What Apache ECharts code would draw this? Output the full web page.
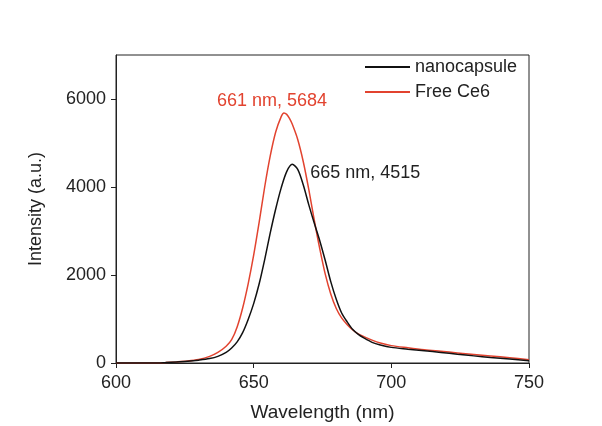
<!DOCTYPE html>
<html>
<head>
<meta charset="utf-8">
<script src="https://cdn.jsdelivr.net/npm/echarts@6/dist/echarts.min.js"></script>
<style>
  html, body { margin: 0; padding: 0; background: #fff; }
  #chart { width: 602px; height: 426px; }
</style>
</head>
<body>
<div id="chart"></div>
<script>
// emission spectra, wavelength (nm) vs intensity (a.u.)
var nanocapsule = [
  [600, 0], [614, 0], [618, 10], [622, 25], [626, 40], [630, 65], [634, 100],
  [637, 150], [640, 240], [642, 340], [644, 480], [646, 690], [648, 990],
  [650, 1350], [652, 1800], [654, 2350], [656, 2950], [658, 3500], [660, 3980],
  [662, 4350], [664, 4515], [666, 4400], [668, 4050], [670, 3600], [672, 3180],
  [674, 2780], [676, 2330], [678, 1850], [680, 1450], [682, 1130], [684, 930],
  [686, 760], [688, 650], [690, 570], [693, 470], [696, 410], [700, 355],
  [706, 315], [712, 278], [718, 240], [724, 200], [730, 162], [736, 125],
  [743, 90], [750, 52]
]
var freeCe6 = [
  [600, 0], [614, 0], [618, 10], [622, 25], [626, 45], [630, 80], [634, 150],
  [637, 240], [640, 380], [642, 530], [644, 820], [646, 1250], [648, 1800],
  [650, 2450], [652, 3200], [654, 4000], [656, 4700], [658, 5250], [660, 5600],
  [661, 5684], [662, 5650], [663, 5560], [664, 5430], [666, 5080], [668, 4580],
  [670, 3950], [672, 3250], [674, 2600], [676, 2020], [678, 1570], [680, 1240],
  [682, 1020], [684, 870], [686, 750], [688, 660], [690, 600], [693, 520],
  [696, 455], [700, 395], [706, 345], [712, 300], [718, 265], [724, 230],
  [730, 195], [736, 160], [743, 120], [750, 75]
]
var xTicks = [600, 650, 700, 750]
var yTicks = [0, 2000, 4000, 6000]
var peakNano = [665, 4515]
var peakFree = [661, 5684]

var font = 'Liberation Sans, Arial, sans-serif'
var red = '#e2432f'
var dark = '#111'

var chart = echarts.init(document.getElementById('chart'))
chart.setOption({
  animation: false,
  textStyle: { fontFamily: font },
  grid: {
    left: 116,
    right: 73,
    top: 55,
    bottom: 63,
    outerBoundsMode: 'none',
    containLabel: false,
    show: true,
    borderColor: '#222',
    borderWidth: 1
  },
  legend: {
    orient: 'vertical',
    left: 365,
    top: 58,
    padding: 0,
    itemGap: 7,
    itemWidth: 45,
    itemHeight: 2,
    textStyle: { fontSize: 18, color: '#222', fontFamily: font },
    data: [
      { name: 'nanocapsule', icon: 'rect' },
      { name: 'Free Ce6', icon: 'rect' }
    ]
  },
  xAxis: {
    type: 'value',
    min: 600,
    max: 750,
    interval: 50,
    name: 'Wavelength (nm)',
    nameLocation: 'middle',
    nameGap: 40,
    nameTextStyle: { fontSize: 19, color: '#222', fontFamily: font },
    axisLine: { lineStyle: { color: '#222', width: 1 } },
    axisTick: { length: 5, lineStyle: { color: '#222' }, customValues: xTicks },
    axisLabel: { fontSize: 18, color: '#222', margin: 11, customValues: xTicks },
    splitLine: { show: false }
  },
  yAxis: {
    type: 'value',
    min: 0,
    max: 7000,
    interval: 2000,
    name: 'Intensity (a.u.)',
    nameLocation: 'middle',
    nameGap: 71,
    nameTextStyle: { fontSize: 18, color: '#222', fontFamily: font },
    axisLine: { show: true, lineStyle: { color: '#222', width: 1 } },
    axisTick: { show: true, length: 5, lineStyle: { color: '#222' }, customValues: yTicks },
    axisLabel: {
      fontSize: 18,
      color: '#222',
      margin: 10,
      customValues: yTicks,
      formatter: function (v) { return String(v) }
    },
    splitLine: { show: false }
  },
  series: [
    {
      name: 'nanocapsule',
      type: 'line',
      symbol: 'none',
      smooth: 0.3,
      lineStyle: { color: dark, width: 1.5 },
      itemStyle: { color: dark },
      z: 3,
      data: nanocapsule,
      markPoint: {
        symbol: 'circle',
        symbolSize: 0,
        label: {
          show: true,
          position: 'right',
          offset: [13, 9],
          fontSize: 18,
          color: '#222',
          fontFamily: font,
          formatter: peakNano[0] + ' nm, ' + peakNano[1]
        },
        data: [{ coord: [664, peakNano[1]] }]
      }
    },
    {
      name: 'Free Ce6',
      type: 'line',
      symbol: 'none',
      smooth: 0.3,
      lineStyle: { color: red, width: 1.5 },
      itemStyle: { color: red },
      z: 2,
      data: freeCe6,
      markPoint: {
        symbol: 'circle',
        symbolSize: 0,
        label: {
          show: true,
          position: 'top',
          offset: [-12, 2],
          fontSize: 18,
          color: red,
          fontFamily: font,
          formatter: peakFree[0] + ' nm, ' + peakFree[1]
        },
        data: [{ coord: [661, peakFree[1]] }]
      }
    }
  ]
})
</script>
</body>
</html>
